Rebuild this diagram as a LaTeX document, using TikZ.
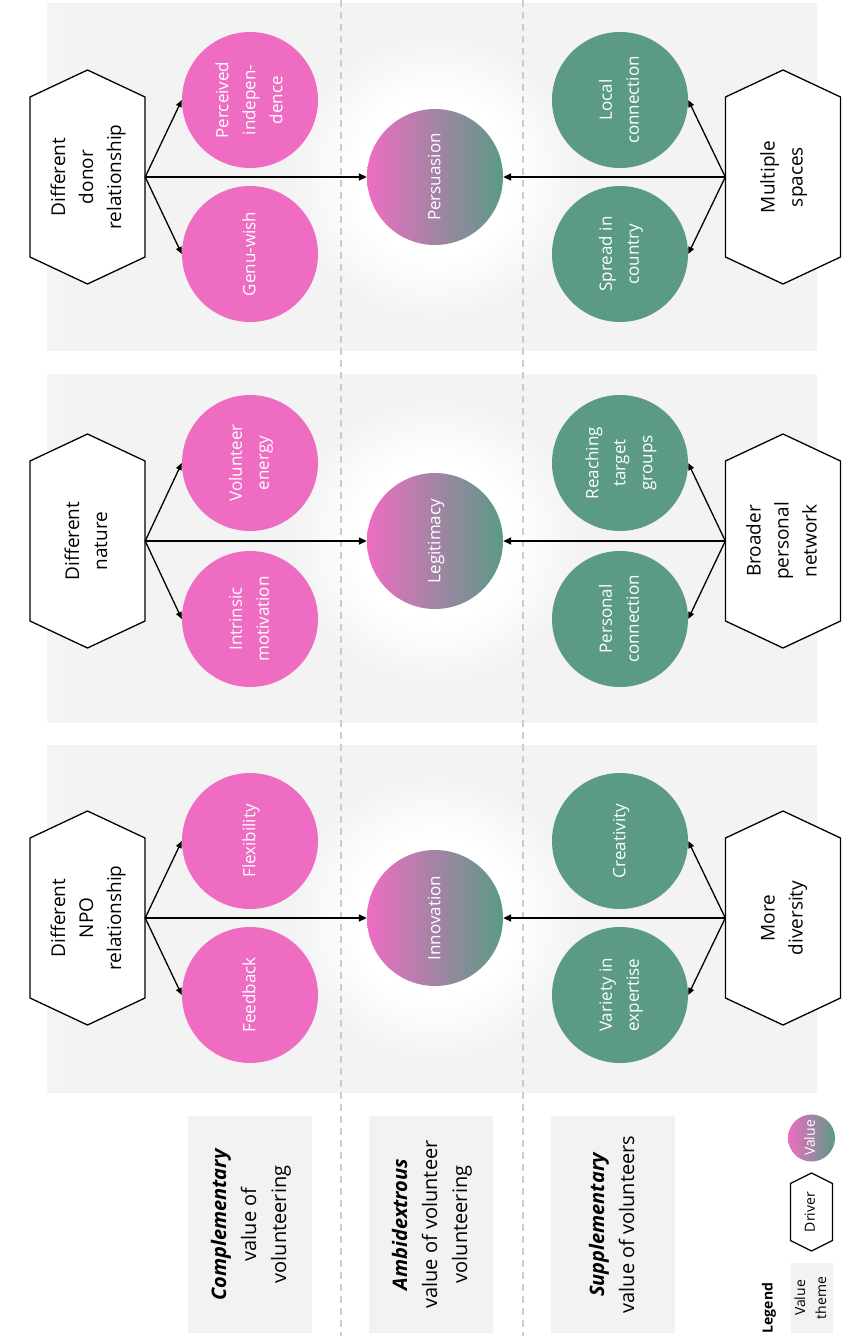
\documentclass[tikz,border=0pt]{standalone}
\usepackage{fontspec}
\setmainfont{Open Sans}
\usetikzlibrary{arrows.meta,fadings,calc}
\definecolor{vpink}{HTML}{EE6DC3}
\definecolor{vgreen}{HTML}{5A9A86}
\definecolor{panelgray}{HTML}{F2F2F2}
\definecolor{panelmid}{HTML}{F3F3F3}
\definecolor{paneledge}{HTML}{FBFBFB}
\definecolor{dashgray}{HTML}{CCCCCC}
\pgfdeclareradialshading{glowsh}{\pgfpointorigin}{color(0bp)=(pgftransparent!0); color(14bp)=(pgftransparent!0); color(25bp)=(pgftransparent!100); color(50bp)=(pgftransparent!100)}
\pgfdeclarefading{glowfade}{\pgfuseshading{glowsh}}
\pgfdeclarehorizontalshading{panelshade}{100bp}{color(0bp)=(paneledge); color(28bp)=(panelmid); color(85bp)=(panelmid); color(100bp)=(paneledge)}
\newcommand{\vtext}[1]{\rotatebox{90}{\begin{tabular}{@{}c@{}}#1\end{tabular}}}
\newcommand{\hexpath}[5]{% cx, cy, halfwidth, side half, apex
  \draw[hexline, shift={(#1,#2)}] (-#3,-#4) -- (0,-#5) -- (#3,-#4) -- (#3,#4) -- (0,#5) -- (-#3,#4) -- cycle;}
\begin{document}
\begin{tikzpicture}[x=1pt,y=-1pt,
  valc/.style={circle, minimum size=136pt, inner sep=0pt, text=white, font=\fontsize{17}{27}\selectfont},
  pinkc/.style={valc, fill=vpink},
  greenc/.style={valc, fill=vgreen},
  gradc/.style={valc, left color=vpink, right color=vgreen},
  hexline/.style={draw=black, fill=white, line width=1.3pt, line join=miter},
  hexbox/.style={minimum width=115pt, minimum height=160pt, inner sep=0pt, font=\fontsize{19}{28}\selectfont},
  conn/.style={line width=1.3pt, -{Triangle[length=7pt,width=6pt]}},
  mainconn/.style={line width=1.8pt, -{Triangle[length=8pt,width=7pt]}},
  themebox/.style={fill=panelgray, minimum width=124pt, minimum height=217pt, inner sep=0pt, font=\fontsize{20}{30}\selectfont},
  divider/.style={dashgray, line width=1.2pt, dash pattern=on 7pt off 5pt},
]
\useasboundingbox (0,0) rectangle (862,1336);
\fill[white] (0,0) rectangle (862,1336);
% panels
\shade[shading=panelshade] (47,3) rectangle (817,350);
\shade[shading=panelshade] (47,374) rectangle (817,722);
\shade[shading=panelshade] (47,745) rectangle (817,1092);
% glows
\foreach \r in {177,541,918}{
  \fill[white, path fading=glowfade] (435,\r) circle (145pt);
}
% dividers
\draw[divider] (341,0) -- (341,1336);
\draw[divider] (523,0) -- (523,1336);

% ---------- Row 1
\hexpath{87.5}{177}{57.5}{80}{107}
\node[hexbox] (d1l) at (87.5,177) {\vtext{Different\\donor\\relationship}};
\hexpath{783}{177}{57.5}{80}{107}
\node[hexbox] (d1r) at (783,177) {\vtext{Multiple\\spaces}};
\node[pinkc] (p1u) at (250,100) {\vtext{Perceived\\indepen-\\dence}};
\node[pinkc] (p1l) at (250,254) {\vtext{Genu-wish}};
\node[gradc] (c1) at (435,177) {\vtext{Persuasion}};
\node[greenc] (g1u) at (620,100) {\vtext{Local\\connection}};
\node[greenc] (g1l) at (620,254) {\vtext{Spread in\\country}};
\draw[mainconn] (d1l.east) -- (c1.west);
\draw[mainconn] (d1r.west) -- (c1.east);
\draw[conn] (d1l.east) -- (p1u.west);
\draw[conn] (d1l.east) -- (p1l.west);
\draw[conn] (d1r.west) -- (g1u.east);
\draw[conn] (d1r.west) -- (g1l.east);

% ---------- Row 2
\hexpath{87.5}{541}{57.5}{80}{107}
\node[hexbox] (d2l) at (87.5,541) {\vtext{Different\\nature}};
\hexpath{783}{541}{57.5}{80}{107}
\node[hexbox] (d2r) at (783,541) {\vtext{Broader\\personal\\network}};
\node[pinkc] (p2u) at (250,463) {\vtext{Volunteer\\energy}};
\node[pinkc] (p2l) at (250,619) {\vtext{Intrinsic\\motivation}};
\node[gradc] (c2) at (435,541) {\vtext{Legitimacy}};
\node[greenc] (g2u) at (620,463) {\vtext{Reaching\\target\\groups}};
\node[greenc] (g2l) at (620,619) {\vtext{Personal\\connection}};
\draw[mainconn] (d2l.east) -- (c2.west);
\draw[mainconn] (d2r.west) -- (c2.east);
\draw[conn] (d2l.east) -- (p2u.west);
\draw[conn] (d2l.east) -- (p2l.west);
\draw[conn] (d2r.west) -- (g2u.east);
\draw[conn] (d2r.west) -- (g2l.east);

% ---------- Row 3
\hexpath{87.5}{918}{57.5}{80}{107}
\node[hexbox] (d3l) at (87.5,918) {\vtext{Different\\NPO\\relationship}};
\hexpath{783}{918}{57.5}{80}{107}
\node[hexbox] (d3r) at (783,918) {\vtext{More\\diversity}};
\node[pinkc] (p3u) at (250,841) {\vtext{Flexibility}};
\node[pinkc] (p3l) at (250,995) {\vtext{Feedback}};
\node[gradc] (c3) at (435,918) {\vtext{Innovation}};
\node[greenc] (g3u) at (620,841) {\vtext{Creativity}};
\node[greenc] (g3l) at (620,995) {\vtext{Variety in\\expertise}};
\draw[mainconn] (d3l.east) -- (c3.west);
\draw[mainconn] (d3r.west) -- (c3.east);
\draw[conn] (d3l.east) -- (p3u.west);
\draw[conn] (d3l.east) -- (p3l.west);
\draw[conn] (d3r.west) -- (g3u.east);
\draw[conn] (d3r.west) -- (g3l.east);

% ---------- Theme boxes
\node[themebox] (t1) at (250,1224.5) {\vtext{\textbf{\textit{Complementary}}\\value of\\volunteering}};
\node[themebox] (t2) at (431,1224.5) {\vtext{\textbf{\textit{Ambidextrous}}\\value of volunteer\\volunteering}};
\node[themebox] (t3) at (613,1224.5) {\vtext{\textbf{\textit{Supplementary}}\\value of volunteers}};

% ---------- Legend
\node[font=\bfseries\fontsize{14}{17}\selectfont, inner sep=0pt] (leg) at (769,1308) {\rotatebox{90}{Legend}};
\node[fill=panelgray, minimum width=41pt, minimum height=70pt, inner sep=0pt, font=\fontsize{14}{21}\selectfont] (legtheme) at (811.5,1298) {\vtext{Value\\theme}};
\hexpath{811.5}{1212}{21}{28.5}{39}
\node[minimum width=42pt, minimum height=57pt, inner sep=0pt, font=\fontsize{14}{17}\selectfont] (legdriver) at (811.5,1212) {\vtext{Driver}};
\node[circle, left color=vpink, right color=vgreen, minimum size=47pt, inner sep=0pt, text=white, font=\fontsize{14}{17}\selectfont] (legvalue) at (811.5,1138) {\vtext{Value}};
\end{tikzpicture}
\end{document}
